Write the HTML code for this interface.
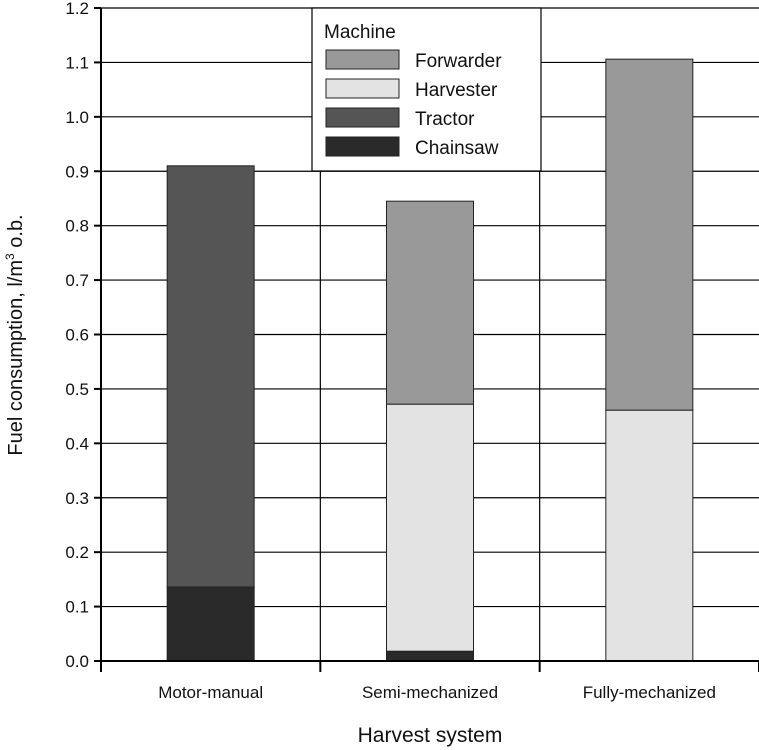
<!DOCTYPE html>
<html><head><meta charset="utf-8"><style>
html,body{margin:0;padding:0;background:#fff;}
svg{display:block;font-family:"Liberation Sans",sans-serif;}
</style></head><body>
<svg id="chart" width="759" height="750">
<g id="grid"></g>
<g id="bars"></g>
<g id="axes"></g>
<g id="legend"></g>
</svg>
<script>
const categories = ["Motor-manual","Semi-mechanized","Fully-mechanized"];
const seriesNames = ["Chainsaw","Tractor","Harvester","Forwarder"];
const chainsaw = [0.136,0.018,0];
const tractor = [0.774,0,0];
const harvester = [0,0.454,0.461];
const forwarder = [0,0.373,0.645];
const yTicks = [0,0.1,0.2,0.3,0.4,0.5,0.6,0.7,0.8,0.9,1.0,1.1,1.2];
const colors = {Chainsaw:"#2a2a2a",Tractor:"#555555",Harvester:"#e3e3e3",Forwarder:"#999999"};
const NS="http://www.w3.org/2000/svg";
const L=101,R=759,T=8,B=661,yMax=1.2;
const y=v=>B-(v/yMax)*(B-T);
const bw=(R-L)/categories.length;
const xc=i=>L+bw*(i+0.5);
function mk(tag,attrs,parent,text){const e=document.createElementNS(NS,tag);for(const k in attrs)e.setAttribute(k,attrs[k]);if(text!==undefined)e.textContent=text;parent.appendChild(e);return e;}
const grid=document.getElementById('grid'),bars=document.getElementById('bars'),axes=document.getElementById('axes'),legend=document.getElementById('legend');
yTicks.forEach(t=>{
 const l=mk('line',{x1:L,x2:R,y1:y(t),y2:y(t),stroke:'#000','stroke-width':1.2},grid);
 
 
 const tk=mk('line',{x1:L-7,x2:L,y1:y(t),y2:y(t),stroke:'#000','stroke-width':2},axes);
 
 
 const tx=mk('text',{x:L-12,y:y(t)+6,'text-anchor':'end','font-size':17,fill:'#111'},axes,t.toFixed(1));
 
 
});
for(let i=0;i<=categories.length;i++){
 const x=L+bw*i;
 if(i>0&&i<categories.length){const g=mk('line',{x1:x,x2:x,y1:T,y2:B,stroke:'#000','stroke-width':1.2},grid);
 
 }
 const tk=mk('line',{x1:x,x2:x,y1:B,y2:B+11,stroke:'#000','stroke-width':2},axes);
 
 
}
const stacks={Chainsaw:chainsaw,Tractor:tractor,Harvester:harvester,Forwarder:forwarder};
categories.forEach((c,i)=>{
 let base=0;const w=87;
 seriesNames.forEach(s=>{
  const v=stacks[s][i];
  if(v>0){
   const r=mk('rect',{x:xc(i)-w/2,y:y(base+v),width:w,height:y(base)-y(base+v),fill:colors[s],stroke:'#222','stroke-width':1},bars);
   
   
  }
  base+=v;
 });
 const t=mk('text',{x:xc(i),y:698,'text-anchor':'middle','font-size':17,fill:'#111'},axes,c);
 
 
});
const ax1=mk('line',{x1:L,x2:L,y1:T,y2:B+11,stroke:'#000','stroke-width':2},axes);


const ax2=mk('line',{x1:L,x2:R,y1:B,y2:B,stroke:'#000','stroke-width':2},axes);


const xt=mk('text',{x:430,y:742,'text-anchor':'middle','font-size':21,fill:'#111'},axes,'Harvest system');


const yt=mk('text',{transform:'translate(22,335) rotate(-90)','text-anchor':'middle','font-size':20,fill:'#111'},axes);


yt.innerHTML='Fuel consumption, l/m<tspan dy="-8" font-size="12">3</tspan><tspan dy="8"> o.b.</tspan>';
const lb=mk('rect',{x:312,y:T,width:229,height:163,fill:'#fff',stroke:'#000','stroke-width':1.2},legend);


const lt=mk('text',{x:324,y:38,'font-size':19,fill:'#111'},legend,'Machine');


["Forwarder","Harvester","Tractor","Chainsaw"].forEach((s,k)=>{
 const yy=50+k*29;
 const sw=mk('rect',{x:326,y:yy,width:73,height:19,fill:colors[s],stroke:'#222','stroke-width':1},legend);
 
 
 const tx=mk('text',{x:415,y:yy+17,'font-size':19,fill:'#111'},legend,s);
 
 
});
</script>
</body></html>
